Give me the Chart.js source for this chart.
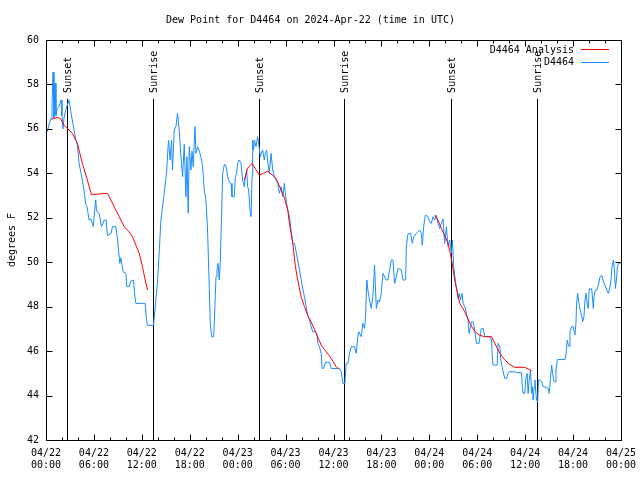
<!DOCTYPE html>
<html><head><meta charset="utf-8">
<script src="https://cdn.jsdelivr.net/npm/chart.js@4/dist/chart.umd.min.js"></script>
<style>html,body{margin:0;padding:0;background:#fff}</style>
</head><body>
<canvas id="c" width="640" height="480"></canvas>
<script>
// Hours since 2024-04-22 00:00 UTC
const xTickLabels = [["04/22","00:00"],["04/22","06:00"],["04/22","12:00"],["04/22","18:00"],["04/23","00:00"],["04/23","06:00"],["04/23","12:00"],["04/23","18:00"],["04/24","00:00"],["04/24","06:00"],["04/24","12:00"],["04/24","18:00"],["04/25","00:00"]];

const eventLabels = ["Sunset","Sunrise","Sunset","Sunrise","Sunset","Sunrise"];
const eventHours  = [2.67, 13.34, 26.63, 37.3, 50.72, 61.42];
const eventLineTop = 57.35;

const obsHours = [0.16,0.38,0.63,0.75,0.88,1.0,1.13,1.25,1.38,1.63,1.88,2.0,2.13,2.26,2.51,2.89,3.14,3.51,3.73,3.89,4.14,4.39,4.55,4.77,4.98,5.14,5.39,5.64,5.83,5.93,6.08,6.23,6.31,6.40,6.65,6.94,7.15,7.28,7.53,7.69,8.15,8.32,8.74,8.94,9.07,9.24,9.37,9.66,10.0,10.12,10.41,10.62,10.95,11.13,11.25,12.42,12.58,12.71,13.46,13.64,13.96,14.17,14.39,14.46,14.8,15.09,15.34,15.55,15.72,15.84,16.06,16.27,16.47,16.68,16.9,17.1,17.31,17.52,17.65,17.81,17.94,18.15,18.28,18.44,18.65,18.78,18.98,19.19,19.4,19.61,19.82,20.03,20.23,20.45,20.57,20.74,20.99,21.07,21.2,21.29,21.41,21.54,21.7,21.83,21.99,22.12,22.33,22.54,22.74,22.96,23.17,23.29,23.58,23.71,23.87,24.0,24.21,24.42,24.62,24.83,24.96,25.12,25.25,25.38,25.55,25.68,25.8,25.88,26.0,26.09,26.3,26.5,26.71,26.84,26.96,27.13,27.34,27.47,27.63,27.75,27.96,28.18,28.39,28.6,28.81,29.01,29.23,29.44,29.64,29.85,30.06,30.27,30.48,30.69,30.9,31.11,31.32,31.52,31.74,31.95,32.15,32.36,32.58,32.78,32.99,33.2,33.4,33.74,33.9,34.03,34.24,34.46,34.58,34.75,35.0,35.5,35.71,36.75,36.96,37.17,37.42,37.59,37.8,38.01,38.22,38.63,38.85,39.05,39.17,39.48,39.68,39.89,40.01,40.18,40.3,40.52,40.73,40.93,41.14,41.36,41.56,41.77,41.98,42.19,42.61,42.82,43.03,43.24,43.44,43.65,43.86,44.07,44.49,44.7,45.03,45.12,45.32,45.66,45.87,46.04,46.37,46.79,47.0,47.12,47.29,47.5,47.83,48.04,48.25,48.46,48.67,48.88,49.08,49.3,49.51,49.71,49.92,50.14,50.34,50.55,50.76,50.89,51.05,51.18,51.31,51.47,51.6,51.72,51.9,52.1,52.23,52.44,52.65,52.85,52.98,53.15,53.28,53.48,53.69,53.9,54.23,54.41,54.53,54.73,54.95,55.57,55.78,55.91,55.98,56.49,56.61,56.83,56.95,57.24,57.45,57.66,57.86,57.99,58.7,58.91,59.54,59.66,59.74,59.95,60.08,60.25,60.37,60.5,60.67,60.8,60.92,61.0,61.13,61.22,61.34,61.43,61.56,61.68,61.84,62.05,62.26,62.68,62.89,63.01,63.19,63.32,63.44,63.61,63.74,63.86,64.03,64.98,65.11,65.27,65.4,65.52,65.61,65.82,66.02,66.23,66.36,66.44,66.57,66.77,66.95,67.07,67.2,67.36,67.49,67.61,67.78,67.9,68.03,68.2,68.33,68.53,68.62,68.79,68.96,69.17,69.38,69.59,69.79,70.0,70.21,70.42,70.63,70.76,70.88,71.05,71.18,71.3,71.43,71.55,71.68,71.9];
const obsValues = [55.87,56.2,56.47,57.0,58.55,56.5,58.06,56.6,56.9,57.0,57.3,56.6,56.0,56.5,56.9,57.3,56.7,55.95,55.5,55.4,54.46,54.0,53.7,53.2,52.6,52.5,51.9,51.95,51.7,51.6,52.3,52.8,52.4,52.27,52.2,51.6,51.75,51.9,51.9,51.2,51.3,51.6,51.6,51.08,50.6,49.95,50.2,49.57,49.5,48.9,48.9,49.15,49.2,48.45,48.15,48.15,47.43,47.16,47.16,47.85,49.1,50.4,51.9,52.1,53.1,54.0,55.5,54.6,55.5,54.15,55.95,56.1,56.7,55.95,54.75,53.85,55.3,52.95,54.75,52.2,55.2,54.15,55.0,54.3,56.1,54.9,55.2,55.0,54.75,54.3,53.25,52.8,51.45,48.8,47.25,46.65,46.65,47.25,48.5,49.35,49.65,49.95,49.2,50.1,52.2,54.0,54.4,54.35,53.85,53.6,53.55,52.95,52.95,53.85,54.0,54.45,54.6,54.45,53.7,53.4,53.85,54.15,53.4,53.25,52.35,52.05,53.85,55.5,55.05,55.5,55.2,55.65,55.1,54.75,54.9,55.05,54.6,54.9,55.05,54.6,54.0,54.9,54.15,53.85,53.7,53.55,53.1,53.4,52.95,53.55,52.8,52.35,52.05,51.45,50.85,50.85,50.47,50.1,49.65,49.2,48.8,48.45,48.0,47.6,47.4,47.1,46.87,46.87,46.8,46.35,46.2,45.9,45.22,45.22,45.5,45.5,45.22,45.22,45.1,44.55,44.55,45.45,45.45,45.9,46.2,46.2,45.9,46.65,46.87,46.65,47.25,47.02,47.55,49.2,48.75,48.3,47.92,48.45,49.87,47.92,48.3,48.2,48.6,49.5,49.2,49.2,49.65,50.1,50.1,49.05,49.35,49.72,49.65,49.2,49.2,50.7,51.27,51.3,50.85,51.15,51.3,51.45,51.3,50.77,51.6,52.12,52.05,51.82,51.75,52.05,51.9,52.12,51.75,51.52,51.75,51.95,50.85,51.6,50.7,51.0,50.4,51.0,49.8,49.42,49.05,48.75,48.37,48.6,48.3,48.6,48.15,48.0,47.7,47.4,46.8,47.1,47.32,47.32,46.95,46.35,46.35,46.85,47.02,47.02,46.65,46.65,46.5,45.6,45.37,45.37,46.35,46.2,45.6,45.07,44.77,44.77,45.0,45.07,45.07,45.03,45.03,44.32,44.1,44.1,44.77,45.0,44.1,44.7,45.15,44.1,44.4,43.8,44.4,44.7,44.1,43.8,43.72,44.7,44.7,44.62,44.4,44.37,44.32,44.1,44.85,45.37,45.0,44.62,44.62,45.15,45.62,45.62,45.82,46.5,46.27,46.2,46.87,47.1,47.1,46.72,47.25,48.15,48.6,48.07,47.77,47.62,47.32,47.55,48.3,48.6,48.07,47.92,48.82,48.75,48.82,47.92,48.45,48.75,48.75,48.97,49.35,49.42,49.12,48.97,48.75,48.6,48.9,49.27,49.8,50.1,49.65,48.82,49.2,49.8,49.95,49.95];

// Analysis (null = gap between segments)
const anaHours  = [0.72,1.42,1.84,2.26,2.67,3.3,3.93,4.55,5.18,5.68,6.65,7.69,8.12,8.74,9.16,9.78,10.41,10.83,11.25,11.67,12.08,12.42,12.71, 18.0, 24.84,25.25,25.8,26.22,26.72,27.22,27.76,28.18,28.81,29.44,29.85,30.27,30.48,30.9,31.23,31.52,31.95,32.36,32.78,33.2,33.83,34.46,35.08,35.71,36.34,36.67, 42.0, 48.67,49.08,49.51,49.92,50.34,50.76,51.18,51.39,51.81,52.44,53.07,53.69,54.28,54.9,55.78,56.2,56.83,57.45,58.08,58.7,59.95,60.37,60.8];
const anaValues = [56.43,56.52,56.45,56.17,56.02,55.8,55.35,54.45,53.7,53.05,53.07,53.1,52.8,52.35,52.05,51.6,51.37,51.15,50.77,50.4,49.8,49.2,48.75, null, 53.7,54.23,54.45,54.2,53.92,54.0,54.1,53.97,53.77,53.25,52.9,52.35,51.75,50.85,49.8,49.2,48.45,48.0,47.6,47.32,46.8,46.27,45.97,45.67,45.3,45.18, null, 52.12,51.9,51.52,51.2,50.85,50.17,49.2,48.82,48.15,47.77,47.25,46.87,46.72,46.65,46.65,46.35,45.9,45.6,45.4,45.27,45.27,45.2,45.12];

const FONT = 'DejaVu Sans Mono';

const framePlugin = {
  id: 'frame',
  beforeDatasetsDraw(chart) {
    const ctx = chart.ctx, x = chart.scales.x, y = chart.scales.y;
    ctx.save();
    ctx.strokeStyle = '#000'; ctx.lineWidth = 1;
    ctx.fillStyle = '#000';
    ctx.font = '10px "' + FONT + '"';
    eventHours.forEach((h, i) => {
      const px = Math.round(x.getPixelForValue(h)) + 0.5;
      const top = y.getPixelForValue(eventLineTop);
      ctx.beginPath(); ctx.moveTo(px, top); ctx.lineTo(px, y.bottom); ctx.stroke();
      ctx.save();
      ctx.translate(px + 1, top - 6);
      ctx.rotate(-Math.PI / 2);
      ctx.textAlign = 'left'; ctx.textBaseline = 'middle';
      ctx.fillText(eventLabels[i], 0, 0);
      ctx.restore();
    });
    ctx.restore();
  },
  afterDraw(chart) {
    const ctx = chart.ctx, a = chart.chartArea, x = chart.scales.x, y = chart.scales.y;
    ctx.save();
    ctx.strokeStyle = '#000'; ctx.lineWidth = 1;
    const L = Math.round(a.left) + 0.5, R = Math.round(a.right) + 0.5, T = Math.round(a.top) + 0.5, B = Math.round(a.bottom) + 0.5;
    ctx.strokeRect(L, T, R - L, B - T);
    ctx.beginPath();
    for (let h = 0; h <= 72; h += 2) {
      const px = Math.round(x.getPixelForValue(h)) + 0.5;
      const len = (h % 6 === 0) ? 6 : 3;
      ctx.moveTo(px, B); ctx.lineTo(px, B - len);
      ctx.moveTo(px, T); ctx.lineTo(px, T + len);
    }
    for (let v = 42; v <= 60; v += 2) {
      const py = Math.round(y.getPixelForValue(v)) + 0.5;
      ctx.moveTo(L, py); ctx.lineTo(L + 6, py);
      ctx.moveTo(R, py); ctx.lineTo(R - 6, py);
    }
    ctx.stroke();
    // legend
    ctx.font = '10px "' + FONT + '"';
    ctx.textAlign = 'right'; ctx.textBaseline = 'middle'; ctx.fillStyle = '#000';
    chart.data.datasets.forEach((ds, i) => {
      const ty = a.top + 10 + i * 12.5;
      ctx.fillText(ds.label, a.right - 47, ty);
      ctx.strokeStyle = ds.borderColor;
      ctx.beginPath();
      const ly = Math.round(ty - 1) + 0.5;
      ctx.moveTo(a.right - 40, ly); ctx.lineTo(a.right - 12, ly);
      ctx.stroke();
    });
    ctx.restore();
  }
};

new Chart(document.getElementById('c'), {
  type: 'line',
  data: {
    datasets: [
      { label: 'D4464 Analysis', data: anaHours.map((h, i) => ({x: h, y: anaValues[i]})),
        borderColor: '#ff0000', borderWidth: 1, pointRadius: 0, spanGaps: false, tension: 0 },
      { label: 'D4464', data: obsHours.map((h, i) => ({x: h, y: obsValues[i]})),
        borderColor: '#1a8cff', borderWidth: 1, pointRadius: 0, tension: 0 }
    ]
  },
  options: {
    responsive: false, animation: false, devicePixelRatio: 1,
    layout: { padding: { left: 0, right: 19, top: 0, bottom: 0 } },
    plugins: {
      legend: { display: false },
      tooltip: { enabled: false },
      title: { display: true, text: 'Dew Point for D4464 on 2024-Apr-22 (time in UTC)', color: '#000',
        font: { family: FONT, size: 10, weight: 'normal' }, padding: { top: 14, bottom: 14 } }
    },
    scales: {
      x: { type: 'linear', min: 0, max: 72,
        grid: { display: false, drawTicks: false }, border: { display: false },
        ticks: { stepSize: 6, autoSkip: false, maxRotation: 0, color: '#000', padding: 7,
          font: { family: FONT, size: 10 }, callback: v => xTickLabels[Math.round(v / 6)] },
        afterFit: s => { s.height = 40; s.paddingLeft = 0; s.paddingRight = 0; } },
      y: { type: 'linear', min: 42, max: 60,
        grid: { display: false, drawTicks: false }, border: { display: false },
        ticks: { stepSize: 2, color: '#000', padding: 7, font: { family: FONT, size: 10 } },
        title: { display: true, text: 'degrees F', color: '#000', font: { family: FONT, size: 10 }, padding: { top: 6, bottom: 0 } },
        afterFit: s => { s.width = 46; s.paddingTop = 0; s.paddingBottom = 0; } }
    }
  },
  plugins: [framePlugin]
});
</script>
</body></html>
